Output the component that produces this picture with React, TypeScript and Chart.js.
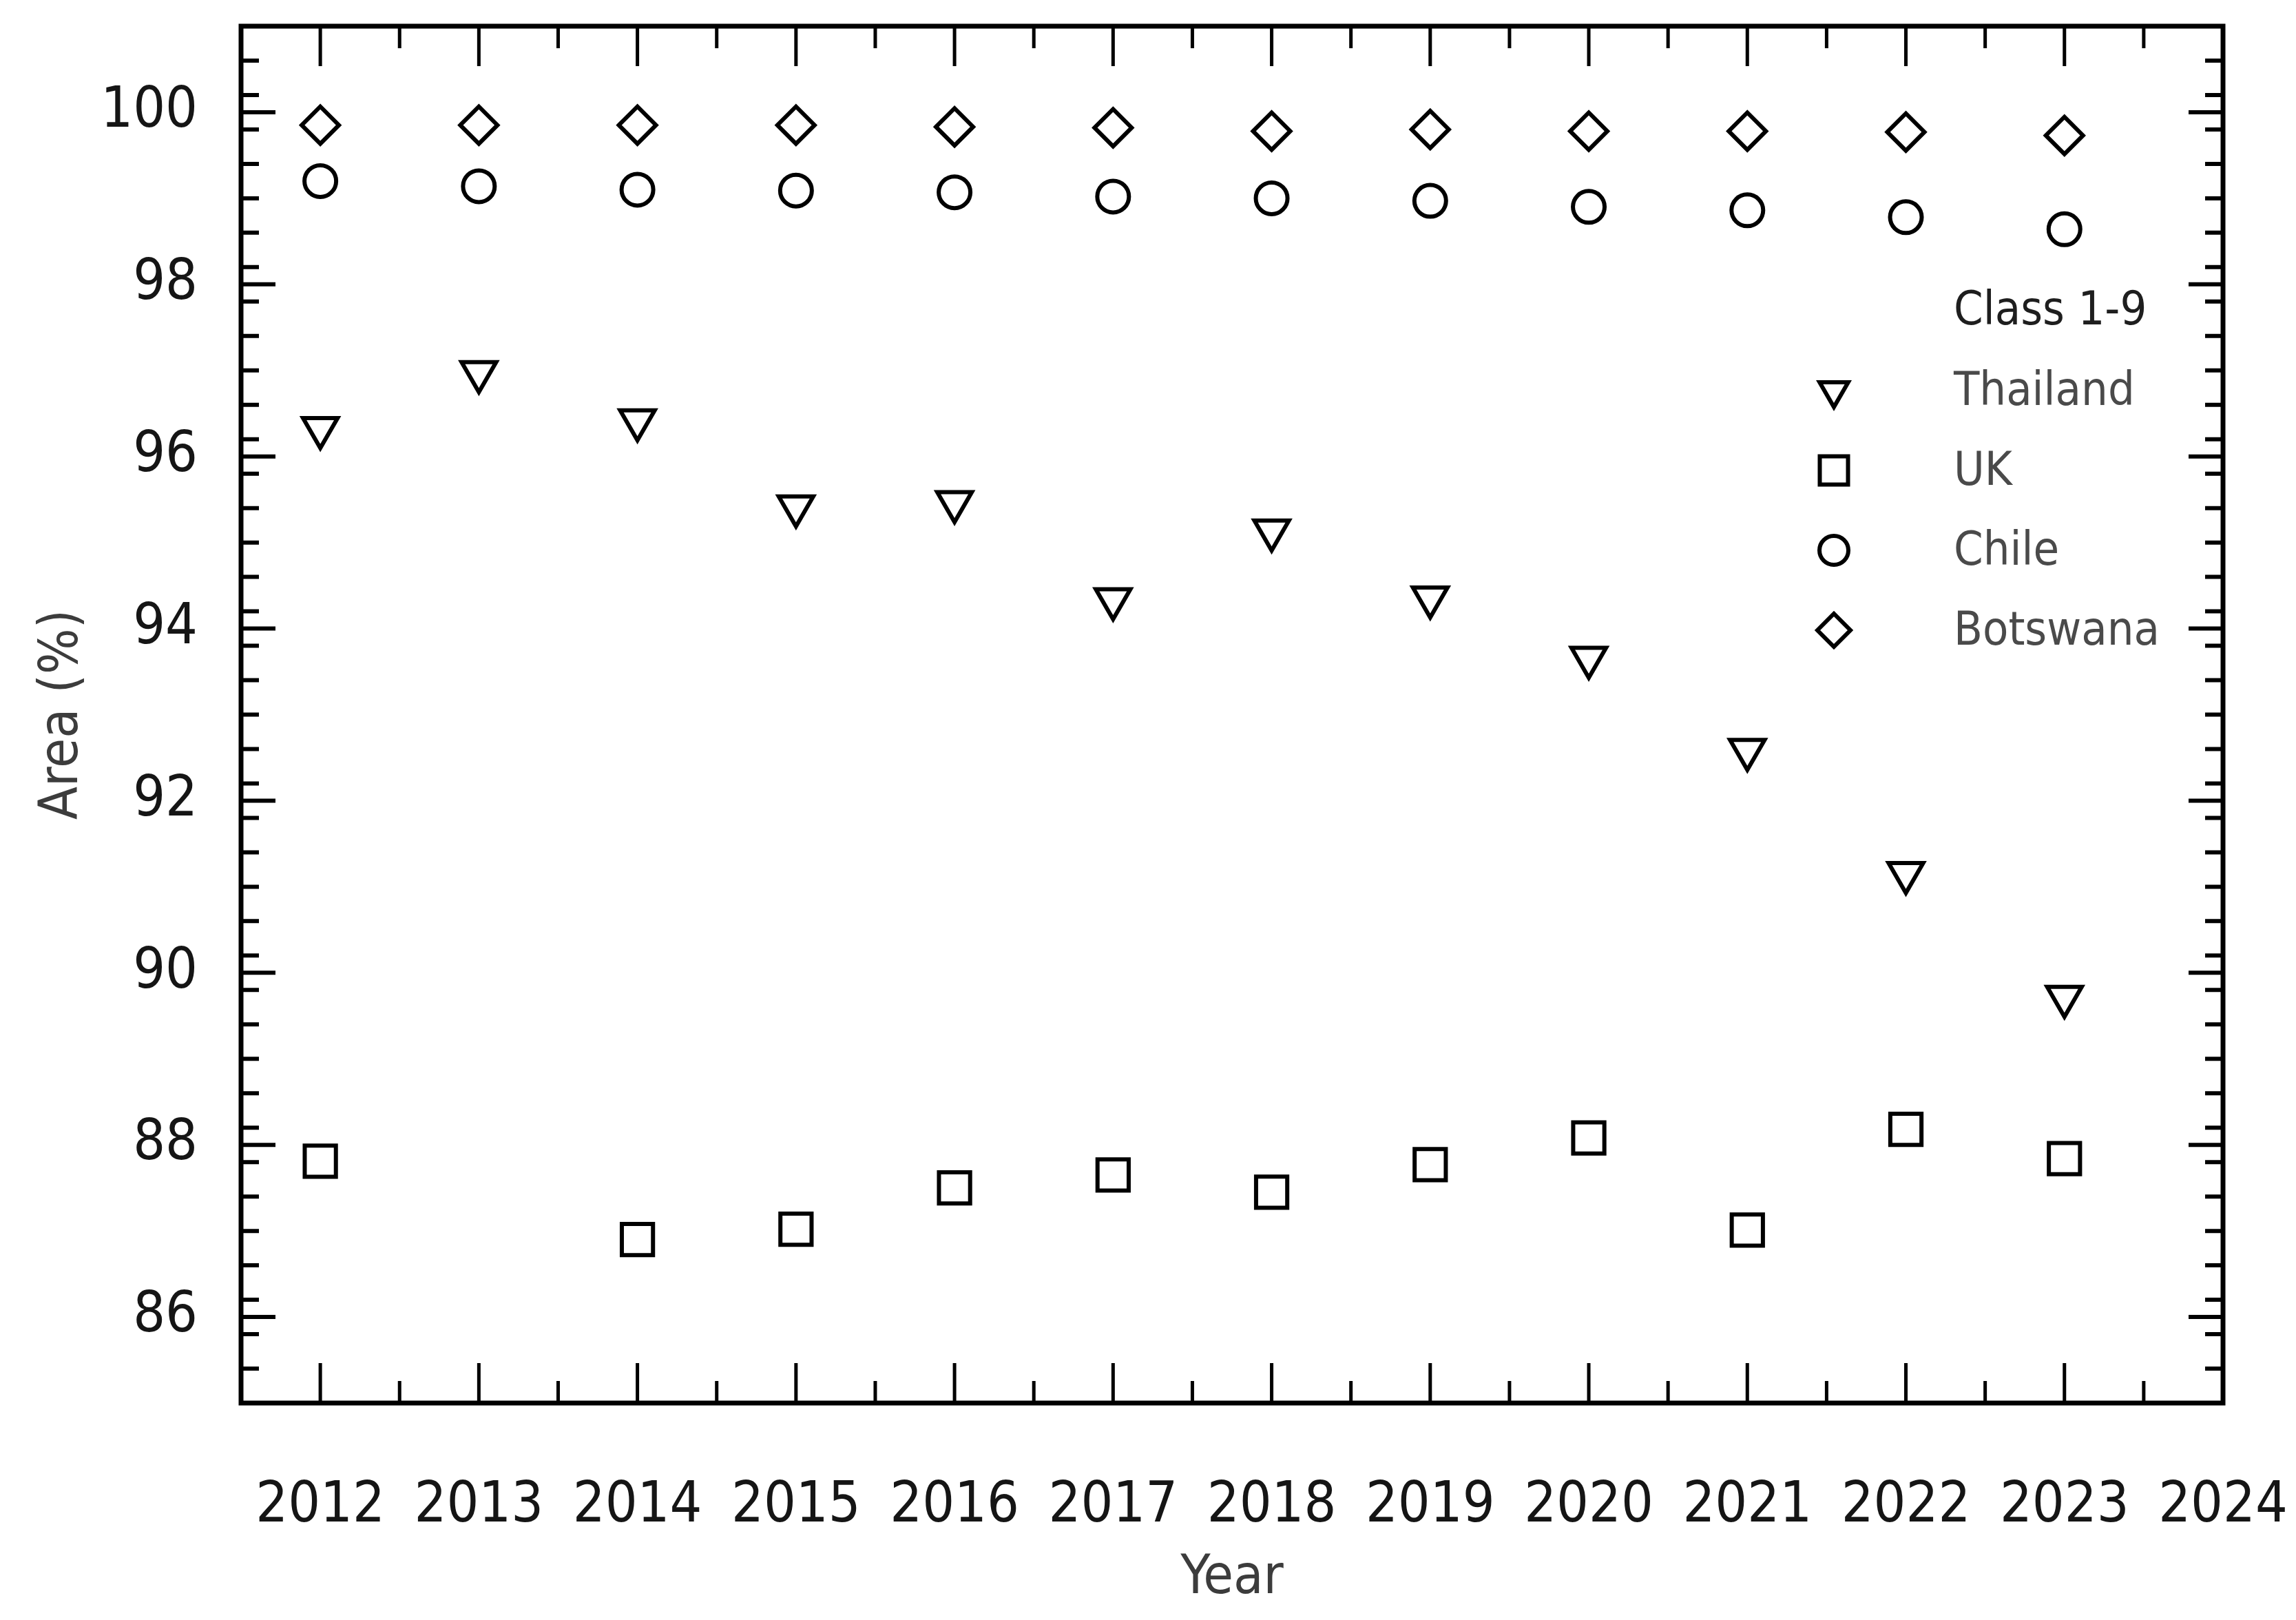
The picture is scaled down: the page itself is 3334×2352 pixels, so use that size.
import React, { useEffect, useRef } from 'react';
import { Chart, registerables } from 'chart.js';

Chart.register(...registerables);

// ---- data ----
const years = [2012, 2013, 2014, 2015, 2016, 2017, 2018, 2019, 2020, 2021, 2022, 2023];
const thailand = [96.33, 96.98, 96.42, 95.42, 95.47, 94.34, 95.14, 94.36, 93.66, 92.59, 91.16, 89.72];
const uk = [87.81, null, 86.9, 87.02, 87.5, 87.65, 87.45, 87.77, 88.08, 87.01, 88.18, 87.84];
const chile = [99.2, 99.14, 99.1, 99.09, 99.07, 99.02, 99.0, 98.97, 98.9, 98.86, 98.78, 98.64];
const botswana = [99.85, 99.85, 99.85, 99.85, 99.83, 99.82, 99.78, 99.8, 99.78, 99.78, 99.77, 99.73];

const seriesNames = ['Thailand', 'UK', 'Chile', 'Botswana'];
const legendTitle = 'Class 1-9';
const xTitle = 'Year';
const yTitle = 'Area (%)';

const xTickLabels = [2012, 2013, 2014, 2015, 2016, 2017, 2018, 2019, 2020, 2021, 2022, 2023, 2024];
const xMinorTicks = [2012.5, 2013.5, 2014.5, 2015.5, 2016.5, 2017.5, 2018.5, 2019.5, 2020.5, 2021.5, 2022.5, 2023.5];
const yTickLabels = [86, 88, 90, 92, 94, 96, 98, 100];
const xRange = [2011.5, 2024];
const yRange = [85, 101];
const yMinorStep = 0.4;

// ---- styles ----
const FONT = '"DejaVu Sans Condensed", "Liberation Sans", sans-serif';
type Shape = 'triangleDown' | 'square' | 'circle' | 'diamond';
const shapes: Shape[] = ['triangleDown', 'square', 'circle', 'diamond'];
const dataRadius: Record<Shape, number> = { triangleDown: 29, square: 32, circle: 23, diamond: 27 };
const legendRadius: Record<Shape, number> = { triangleDown: 24, square: 29, circle: 21, diamond: 24 };
const MARKER_STROKE = 6;

function drawMarker(ctx: CanvasRenderingContext2D, shape: Shape, x: number, y: number, r: number) {
  ctx.beginPath();
  if (shape === 'triangleDown') {
    let a = Math.PI;
    for (let k = 0; k < 3; k++) {
      const px = x + Math.sin(a) * r;
      const py = y - Math.cos(a) * r;
      if (k === 0) ctx.moveTo(px, py); else ctx.lineTo(px, py);
      a += (2 * Math.PI) / 3;
    }
    ctx.closePath();
  } else if (shape === 'square') {
    const s = Math.SQRT1_2 * r;
    ctx.rect(x - s, y - s, 2 * s, 2 * s);
  } else if (shape === 'circle') {
    ctx.arc(x, y, r, 0, Math.PI * 2);
  } else {
    ctx.moveTo(x - r, y);
    ctx.lineTo(x, y - r);
    ctx.lineTo(x + r, y);
    ctx.lineTo(x, y + r);
    ctx.closePath();
  }
  ctx.stroke();
}

const framePlugin = {
  id: 'frameTicks',
  afterDatasetsDraw(chart: any) {
    const { ctx, chartArea } = chart;
    const { left, right, top, bottom } = chartArea;
    const xs = chart.scales.x;
    const ys = chart.scales.y;
    ctx.save();
    ctx.strokeStyle = '#000';
    ctx.lineCap = 'butt';
    const xTick = (v: number, len: number) => {
      const px = xs.getPixelForValue(v);
      ctx.beginPath();
      ctx.moveTo(px, bottom);
      ctx.lineTo(px, bottom - len);
      ctx.moveTo(px, top);
      ctx.lineTo(px, top + len);
      ctx.stroke();
    };
    ctx.lineWidth = 5;
    xTickLabels.forEach((v) => xTick(v, 58));
    xMinorTicks.forEach((v) => xTick(v, 32));
    const yTick = (v: number, len: number) => {
      const py = ys.getPixelForValue(v);
      ctx.beginPath();
      ctx.moveTo(left, py);
      ctx.lineTo(left + len, py);
      ctx.moveTo(right, py);
      ctx.lineTo(right - len, py);
      ctx.stroke();
    };
    ctx.lineWidth = 6;
    yTickLabels.forEach((v) => yTick(v, 50));
    for (let i = 1; yRange[0] + i * yMinorStep < yRange[1] - 1e-6; i++) {
      const v = yRange[0] + i * yMinorStep;
      if (yTickLabels.some((m) => Math.abs(m - v) < 1e-6)) continue;
      yTick(v, 26);
    }
    ctx.lineWidth = 7;
    ctx.strokeRect(left, top, right - left, bottom - top);
    ctx.restore();
  },
};

const legendPlugin = {
  id: 'insideLegend',
  afterDraw(chart: any) {
    const { ctx } = chart;
    const markerX = 2663;
    const textX = 2837;
    const rows = [453, 570, 686, 802, 918];
    ctx.save();
    ctx.textAlign = 'left';
    ctx.textBaseline = 'middle';
    ctx.font = `68px ${FONT}`;
    ctx.fillStyle = '#1e1e1e';
    ctx.fillText(legendTitle, textX, rows[0]);
    ctx.strokeStyle = '#000';
    ctx.lineWidth = MARKER_STROKE;
    seriesNames.forEach((name, i) => {
      const y = rows[i + 1];
      drawMarker(ctx, shapes[i], markerX, y - 3, legendRadius[shapes[i]]);
      ctx.fillStyle = '#4a4a4a';
      ctx.fillText(name, textX, y);
    });
    ctx.restore();
  },
};

function toPoints(values: (number | null)[]) {
  return years
    .map((x, i) => ({ x, y: values[i] }))
    .filter((p) => p.y !== null) as { x: number; y: number }[];
}

export default function App() {
  const canvasRef = useRef<HTMLCanvasElement | null>(null);

  useEffect(() => {
    if (!canvasRef.current) return;
    const seriesValues = [thailand, uk, chile, botswana];
    const styleMap: Record<Shape, string> = {
      triangleDown: 'triangle',
      square: 'rect',
      circle: 'circle',
      diamond: 'rectRot',
    };
    const datasets = seriesNames.map((name, i) => ({
      label: name,
      data: toPoints(seriesValues[i]),
      pointStyle: styleMap[shapes[i]],
      pointRotation: shapes[i] === 'triangleDown' ? 180 : 0,
      pointRadius: dataRadius[shapes[i]],
      pointHoverRadius: dataRadius[shapes[i]],
      borderWidth: MARKER_STROKE,
      pointBorderWidth: MARKER_STROKE,
      borderColor: '#000',
      pointBorderColor: '#000',
      backgroundColor: 'rgba(0,0,0,0)',
      pointBackgroundColor: 'rgba(0,0,0,0)',
      showLine: false,
    }));

    const chart = new Chart(canvasRef.current, {
      type: 'scatter',
      data: { datasets },
      options: {
        animation: false,
        responsive: false,
        maintainAspectRatio: false,
        events: [],
        layout: { padding: { top: 35, right: 106, left: 0, bottom: 0 } },
        plugins: {
          legend: { display: false },
          tooltip: { enabled: false },
        },
        scales: {
          x: {
            type: 'linear',
            position: 'bottom',
            min: xRange[0],
            max: xRange[1],
            afterBuildTicks: (s: any) => {
              s.ticks = xTickLabels.map((v) => ({ value: v }));
            },
            afterFit: (s: any) => {
              s.height = 315;
              s.paddingLeft = 0;
              s.paddingRight = 0;
            },
            grid: { display: false, drawTicks: false },
            border: { display: false },
            ticks: {
              autoSkip: false,
              maxRotation: 0,
              minRotation: 0,
              padding: 110,
              color: '#151515',
              font: { family: FONT, size: 82, lineHeight: 1 },
              callback: (v: any) => String(v),
            },
            title: {
              display: true,
              text: xTitle,
              color: '#3c3c3c',
              font: { family: FONT, size: 79, lineHeight: 1 },
              padding: { top: 0, bottom: 20 },
            },
          },
          y: {
            type: 'linear',
            min: yRange[0],
            max: yRange[1],
            afterBuildTicks: (s: any) => {
              s.ticks = yTickLabels.map((v) => ({ value: v }));
            },
            afterFit: (s: any) => {
              s.width = 350;
              s.paddingTop = 0;
              s.paddingBottom = 0;
            },
            grid: { display: false, drawTicks: false },
            border: { display: false },
            ticks: {
              padding: 63,
              color: '#151515',
              font: { family: FONT, size: 82, lineHeight: 1 },
              callback: (v: any) => String(v),
            },
            title: {
              display: true,
              text: yTitle,
              color: '#3c3c3c',
              font: { family: FONT, size: 78, lineHeight: 1 },
              padding: { top: 53, bottom: 0 },
            },
          },
        },
      } as any,
      plugins: [framePlugin, legendPlugin],
    });
    return () => chart.destroy();
  }, []);

  return (
    <div style={{ position: 'absolute', left: 0, top: 0, width: 3334, height: 2352, background: '#fff' }}>
      <canvas ref={canvasRef} width={3334} height={2352} style={{ width: 3334, height: 2352, display: 'block' }} />
    </div>
  );
}
